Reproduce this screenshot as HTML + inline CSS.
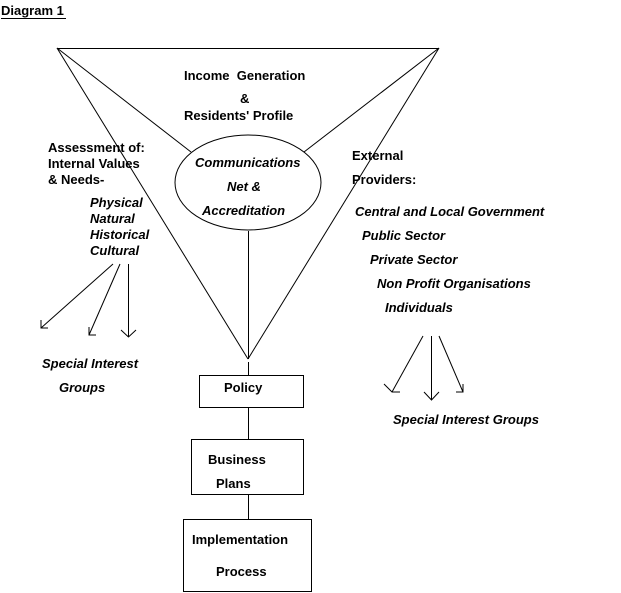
<!DOCTYPE html>
<html><head><style>
html,body{margin:0;padding:0;background:#fff;}
svg{display:block;}
text{font-family:"Liberation Sans",sans-serif;font-size:13px;font-weight:bold;fill:#000;}
.i{font-style:italic;}
</style></head><body>
<svg width="621" height="593" viewBox="0 0 621 593" xmlns="http://www.w3.org/2000/svg">
<g stroke="#000" stroke-width="1" fill="none">
<line x1="57" y1="48.5" x2="439" y2="48.5"/>
<line x1="57" y1="48" x2="248" y2="359"/>
<line x1="439" y1="48" x2="248" y2="359"/>
<line x1="57" y1="48" x2="191" y2="152"/>
<line x1="439" y1="48" x2="304" y2="152"/>
<ellipse cx="248" cy="182.5" rx="73" ry="47.5" fill="#fff"/>
<line x1="248.5" y1="231" x2="248.5" y2="359"/>
<line x1="248.5" y1="362" x2="248.5" y2="375"/>
<rect x="199.5" y="375.5" width="104" height="32"/>
<line x1="248.5" y1="407" x2="248.5" y2="439"/>
<rect x="191.5" y="439.5" width="112" height="55"/>
<line x1="248.5" y1="494" x2="248.5" y2="519"/>
<rect x="183.5" y="519.5" width="128" height="72"/>
<line x1="113" y1="264" x2="41" y2="328"/>
<polyline points="41,320 41,328 48,328"/>
<line x1="120" y1="264" x2="89" y2="335"/>
<polyline points="89,327 89,335 96,335"/>
<line x1="128.5" y1="264" x2="128.5" y2="337"/>
<polyline points="121,330 128.5,337 136,330"/>
<line x1="423" y1="336" x2="392" y2="392"/>
<polyline points="384,384 392,392 400,392"/>
<line x1="431.5" y1="336" x2="431.5" y2="400"/>
<polyline points="424,392 431.5,400 439,392"/>
<line x1="439" y1="336" x2="463" y2="392"/>
<polyline points="456,392 463,392 463,384"/>
<line x1="1" y1="18.5" x2="66" y2="18.5"/>
</g>
<text x="1" y="15">Diagram 1</text>
<text x="184" y="80">Income &#160;Generation</text>
<text x="240" y="103">&amp;</text>
<text x="184" y="120">Residents' Profile</text>
<text x="48" y="152">Assessment of:</text>
<text x="48" y="168">Internal Values</text>
<text x="48" y="184">&amp; Needs-</text>
<text class="i" x="90" y="207">Physical</text>
<text class="i" x="90" y="223">Natural</text>
<text class="i" x="90" y="239">Historical</text>
<text class="i" x="90" y="255">Cultural</text>
<text class="i" x="195" y="167">Communications</text>
<text class="i" x="227" y="191">Net &amp;</text>
<text class="i" x="202" y="215">Accreditation</text>
<text x="352" y="160">External</text>
<text x="352" y="184">Providers:</text>
<text class="i" x="355" y="216">Central and Local Government</text>
<text class="i" x="362" y="240">Public Sector</text>
<text class="i" x="370" y="264">Private Sector</text>
<text class="i" x="377" y="288">Non Profit Organisations</text>
<text class="i" x="385" y="312">Individuals</text>
<text class="i" x="42" y="368">Special Interest</text>
<text class="i" x="59" y="392">Groups</text>
<text class="i" x="393" y="424">Special Interest Groups</text>
<text x="224" y="392">Policy</text>
<text x="208" y="464">Business</text>
<text x="216" y="488">Plans</text>
<text x="192" y="544">Implementation</text>
<text x="216" y="576">Process</text>
</svg>
</body></html>
